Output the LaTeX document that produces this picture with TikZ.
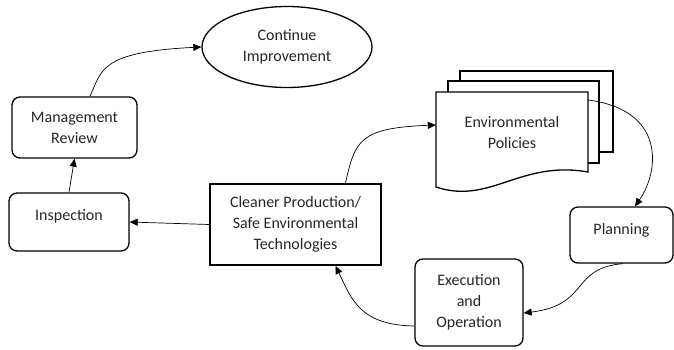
\documentclass[tikz,border=0pt]{standalone}
\usepackage{fontspec}
\setmainfont{Carlito}
\usetikzlibrary{arrows.meta,shapes.geometric}
\begin{document}
\begin{tikzpicture}[x=1pt,y=-1pt,
  txt/.style={font=\fontsize{16}{21}\selectfont, align=center, text=black!85},
  rbox/.style={txt, draw, line width=1.3pt, rounded corners=8pt, inner sep=0pt},
  conn/.style={line width=0.7pt, -{Triangle[length=8pt,width=7pt]}},
  sheet/.style={draw, line width=1.3pt, fill=white}]
\useasboundingbox (0,0) rectangle (674,349);
% nodes
\node[txt, draw, ellipse, line width=1.3pt, minimum width=170pt, minimum height=81pt, inner sep=0pt] (ci) at (287,47) {Continue\\Improvement};
\node[rbox, minimum width=125pt, minimum height=61pt] (mr) at (74.5,127.5) {Management\\Review};
\node[rbox, minimum width=120pt, minimum height=58pt, text depth=14pt] (insp) at (69,222) {Inspection};
\node[txt, draw, line width=1.8pt, minimum width=171pt, minimum height=81pt, inner sep=0pt] (cp) at (295.5,224.5) {Cleaner Production/\\Safe Environmental\\Technologies};
\node[rbox, minimum width=103pt, minimum height=56pt, text depth=13pt] (plan) at (621.5,235) {Planning};
\node[rbox, minimum width=108pt, minimum height=87pt] (exe) at (469,302.5) {Execution\\and\\Operation};
% document stack
\draw[sheet] (460,71) rectangle (613,152);
\draw[sheet] (448,81) rectangle (599,163);
\draw[sheet] (436,92) -- (588,92) -- (588,172) .. controls (520,160) and (490,205) .. (436,187) -- cycle;
\node[txt, minimum width=152pt, minimum height=80pt, inner sep=0pt] (pol) at (512,132) {Environmental\\Policies};
% connection points
\coordinate (mrOut) at ([xshift=15.5pt]mr.north);
\coordinate (cpOut) at ([xshift=50pt]cp.north);
\coordinate (polIn) at ([yshift=7pt]pol.west);
\coordinate (polOut) at ([yshift=32pt]pol.east);
\coordinate (planIn) at ([xshift=13.5pt]plan.north);
\coordinate (planOut) at ([xshift=1.5pt]plan.south);
\coordinate (exeIn) at ([yshift=-10.5pt]exe.east);
\coordinate (exeOut) at ([yshift=-23.5pt]exe.west);
\coordinate (cpIn) at ([xshift=40pt]cp.south);
% connectors
\draw[conn] (insp.north) -- (mr.south);
\draw[conn] (cp.west) -- (insp.east);
\draw[conn] (mrOut) .. controls (102,70) and (100,52) .. (ci.west);
\draw[conn] (cpOut) .. controls (355,140) and (360,128) .. (polIn);
\draw[conn] (polOut) .. controls (665,110) and (660,170) .. (planIn);
\draw[conn] (planOut) .. controls (570,268) and (590,305) .. (exeIn);
\draw[conn] (exeOut) .. controls (360,325) and (352,300) .. (cpIn);
\end{tikzpicture}
\end{document}
